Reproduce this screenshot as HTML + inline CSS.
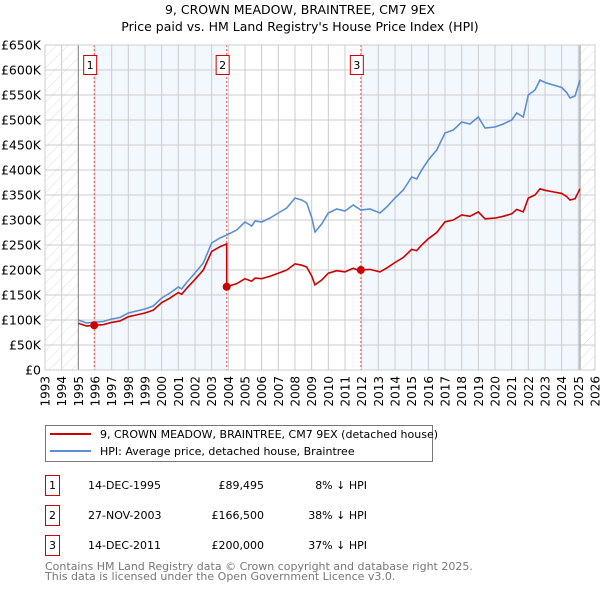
<!DOCTYPE html>
<html><head><meta charset="utf-8"><style>
body{margin:0;background:#fff;font-family:"DejaVu Sans","Liberation Sans",sans-serif;}
svg text{font-family:"DejaVu Sans","Liberation Sans",sans-serif;}
</style></head><body>
<svg id="chart" width="600" height="590" xmlns="http://www.w3.org/2000/svg">
<defs><pattern id="hatch" width="8" height="8" patternUnits="userSpaceOnUse" patternTransform="rotate(45)"><line x1="0" y1="0" x2="0" y2="8" stroke="#d4d4d4" stroke-width="0.8"/></pattern></defs>
<text x="300" y="14" text-anchor="middle" font-size="12.5">9, CROWN MEADOW, BRAINTREE, CM7 9EX</text>
<text x="300" y="31" text-anchor="middle" font-size="12.5">Price paid vs. HM Land Registry's House Price Index (HPI)</text>
<g id="plot"></g>
<g>
<rect x="45.5" y="425.5" width="387" height="36" fill="#fff" stroke="#777"/>
<line x1="50" y1="434" x2="91" y2="434" stroke="#cc0000" stroke-width="2"/>
<text x="100" y="438" font-size="11">9, CROWN MEADOW, BRAINTREE, CM7 9EX (detached house)</text>
<line x1="50" y1="451" x2="91" y2="451" stroke="#5b8fd4" stroke-width="2"/>
<text x="100" y="455" font-size="11">HPI: Average price, detached house, Braintree</text>
</g>
<g font-size="11">
<rect x="45.5" y="475.5" width="14" height="20" fill="#fff" stroke="#cc0000"/><text x="52.5" y="489" text-anchor="middle">1</text>
<text x="88" y="489">14-DEC-1995</text><text x="264" y="489" text-anchor="end">£89,495</text><text x="367" y="489" text-anchor="end">8% ↓ HPI</text>
<rect x="45.5" y="505.5" width="14" height="20" fill="#fff" stroke="#cc0000"/><text x="52.5" y="519" text-anchor="middle">2</text>
<text x="88" y="519">27-NOV-2003</text><text x="264" y="519" text-anchor="end">£166,500</text><text x="367" y="519" text-anchor="end">38% ↓ HPI</text>
<rect x="45.5" y="535.5" width="14" height="20" fill="#fff" stroke="#cc0000"/><text x="52.5" y="549" text-anchor="middle">3</text>
<text x="88" y="549">14-DEC-2011</text><text x="264" y="549" text-anchor="end">£200,000</text><text x="367" y="549" text-anchor="end">37% ↓ HPI</text>
</g>
<text x="45" y="570" font-size="11" fill="#777">Contains HM Land Registry data © Crown copyright and database right 2025.</text>
<text x="45" y="580" font-size="11" fill="#777">This data is licensed under the Open Government Licence v3.0.</text>
</svg>
<script>
const hpiDates=[1995.0,1995.5,1996.0,1996.5,1997.0,1997.5,1998.0,1998.5,1999.0,1999.5,2000.0,2000.5,2001.0,2001.2,2001.5,2002.0,2002.5,2003.0,2003.5,2003.9,2004.5,2005.0,2005.4,2005.6,2006.0,2006.5,2007.0,2007.5,2008.0,2008.4,2008.7,2009.0,2009.2,2009.6,2010.0,2010.5,2011.0,2011.5,2011.95,2012.5,2013.1,2013.5,2014.0,2014.5,2015.0,2015.3,2015.6,2016.0,2016.5,2017.0,2017.5,2018.0,2018.5,2019.0,2019.4,2020.0,2020.5,2021.0,2021.3,2021.7,2022.0,2022.4,2022.7,2023.0,2023.5,2024.0,2024.3,2024.5,2024.8,2025.1];
const hpiValues=[100,94,96,97,102,105,114,118,122,128,144,154,166,162,175,194,214,254,264,270,280,296,288,298,296,304,314,324,344,340,334,305,276,292,314,322,318,330,320,322,314,326,344,360,386,382,400,420,440,474,480,496,492,506,484,486,492,500,514,506,550,560,580,575,570,565,555,544,548,580];
const saleDates=[1995.95,2003.9,2011.95];
const salePrices=[89.495,166.5,200];
const yTicks=[0,50,100,150,200,250,300,350,400,450,500,550,600,650];
const xYears=[1993,1994,1995,1996,1997,1998,1999,2000,2001,2002,2003,2004,2005,2006,2007,2008,2009,2010,2011,2012,2013,2014,2015,2016,2017,2018,2019,2020,2021,2022,2023,2024,2025,2026];
const NS='http://www.w3.org/2000/svg';
const X0=45,X1=595,Y0=370,Y1=45;
const xs=t=>X0+(t-1993)/(2026-1993)*(X1-X0);
const ys=v=>Y0-(v/650)*(Y0-Y1);
const g=document.getElementById('plot');
function mk(tag,attrs,parent){const e=document.createElementNS(NS,tag);for(const k in attrs)e.setAttribute(k,attrs[k]);(parent||g).appendChild(e);return e;}
function hpiAt(t){if(t<=hpiDates[0])return hpiValues[0];for(let i=1;i<hpiDates.length;i++){if(t<=hpiDates[i]){const f=(t-hpiDates[i-1])/(hpiDates[i]-hpiDates[i-1]);return hpiValues[i-1]+f*(hpiValues[i]-hpiValues[i-1]);}}return hpiValues[hpiValues.length-1];}
const last=hpiDates[hpiDates.length-1];
let h=mk('rect',{x:xs(1993),y:Y1,width:xs(1995)-xs(1993),height:Y0-Y1,fill:'url(#hatch)'});


h=mk('rect',{x:xs(last),y:Y1,width:xs(2026)-xs(last),height:Y0-Y1,fill:'url(#hatch)'});


[[saleDates[0],saleDates[1]],[saleDates[2],last]].forEach((p,i)=>{const r=mk('rect',{x:xs(p[0]),y:Y1,width:xs(p[1])-xs(p[0]),height:Y0-Y1,fill:'#f3f7fe'});

});
xYears.forEach(yr=>{const l=mk('line',{x1:xs(yr),x2:xs(yr),y1:Y1,y2:Y0,stroke:'#ccc','stroke-width':1});


const t=mk('text',{x:0,y:0,'font-size':12,'text-anchor':'end',transform:`translate(${xs(yr)+4.5},${Y0+6}) rotate(-90)`});t.textContent=yr;

});
yTicks.forEach(v=>{const l=mk('line',{x1:X0,x2:X1,y1:ys(v),y2:ys(v),stroke:'#ccc','stroke-width':1});


const t=mk('text',{x:X0-4,y:ys(v)+4.5,'font-size':12.5,'text-anchor':'end'});t.textContent=v===0?'£0':'£'+v+'K';

});
[1995,last].forEach(t=>{const l=mk('line',{x1:xs(t),x2:xs(t),y1:Y1,y2:Y0,stroke:'#888','stroke-width':1});

});
saleDates.forEach((d,i)=>{const l=mk('line',{x1:xs(d),x2:xs(d),y1:Y1,y2:Y0,stroke:'#e55','stroke-width':1,'stroke-dasharray':'2,2'});


const b=mk('rect',{x:xs(d)-10.5,y:55.5,width:13,height:19,fill:'#fff',stroke:'#cc0000'});


const t=mk('text',{x:xs(d)-4,y:69,'font-size':11,'text-anchor':'middle'});t.textContent=i+1;

});
const hp=mk('path',{d:hpiDates.map((t,i)=>(i?'L':'M')+xs(t).toFixed(1)+','+ys(hpiValues[i]).toFixed(1)).join(''),fill:'none',stroke:'#5b8fd4','stroke-width':1.6});


const pts=[];
const allT=hpiDates.concat(saleDates).sort((a,b)=>a-b);
allT.forEach(t=>{let k=0;for(let i=0;i<saleDates.length;i++)if(t>=saleDates[i])k=i;
if(saleDates.includes(t)&&t>saleDates[0]){const prev=saleDates.indexOf(t)-1;pts.push([t,salePrices[prev]*hpiAt(t)/hpiAt(saleDates[prev])]);}
pts.push([t,salePrices[k]*hpiAt(t)/hpiAt(saleDates[k])]);});
const rp=mk('path',{d:pts.map((p,i)=>(i?'L':'M')+xs(p[0]).toFixed(1)+','+ys(p[1]).toFixed(1)).join(''),fill:'none',stroke:'#cc0000','stroke-width':1.6});


saleDates.forEach((d,i)=>{const c=mk('circle',{cx:xs(d),cy:ys(salePrices[i]),r:4,fill:'#cc0000'});

});
const border=mk('rect',{x:X0,y:Y1,width:X1-X0,height:Y0-Y1,fill:'none',stroke:'#ccc'});


</script>
</body></html>
